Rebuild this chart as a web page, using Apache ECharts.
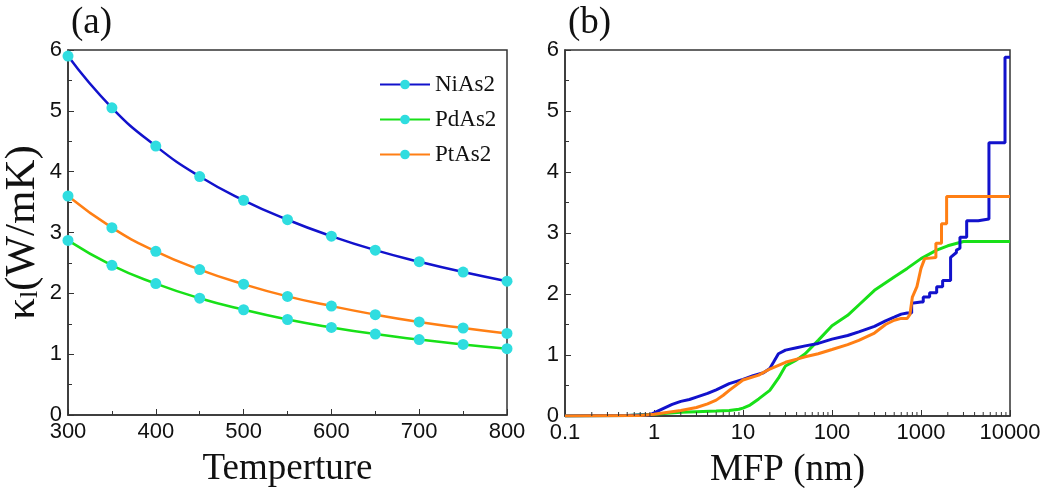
<!DOCTYPE html>
<html>
<head>
<meta charset="utf-8">
<script src="https://cdn.jsdelivr.net/npm/echarts@6/dist/echarts.min.js"></script>
<style>html,body{margin:0;padding:0;background:#fff}#c{width:1043px;height:488px}</style>
</head>
<body>
<div id="c"></div>
<script>
// Panel (a): lattice thermal conductivity vs temperature
var temps = [300, 350, 400, 450, 500, 550, 600, 650, 700, 750, 800];
var kNiAs2 = [5.90, 5.05, 4.42, 3.92, 3.53, 3.21, 2.94, 2.71, 2.52, 2.35, 2.20];
var kPdAs2 = [2.87, 2.46, 2.16, 1.92, 1.73, 1.57, 1.44, 1.33, 1.24, 1.16, 1.09];
var kPtAs2 = [3.60, 3.08, 2.69, 2.39, 2.15, 1.95, 1.79, 1.65, 1.53, 1.43, 1.34];

// Panel (b): cumulative kappa vs MFP (nm)
var mfpNi = [0.1, 0.5, 0.9, 1, 1.3, 1.6, 2, 2.5, 3, 4, 5, 7, 10, 13, 17, 20, 22, 25, 30, 40, 50, 70, 100, 150, 200, 300, 400, 500, 600, 700, 785, 785, 1000, 1060, 1060, 1250, 1250, 1500, 1500, 1750, 1750, 2150, 2150, 2500, 2500, 2740, 2740, 3260, 3260, 4400, 4400, 5800, 5800, 8790, 8790, 10000];
var cumNi = [0, 0.01, 0.02, 0.05, 0.13, 0.19, 0.24, 0.27, 0.31, 0.37, 0.43, 0.53, 0.60, 0.66, 0.71, 0.78, 0.88, 1.02, 1.08, 1.12, 1.15, 1.19, 1.26, 1.32, 1.38, 1.47, 1.56, 1.62, 1.67, 1.69, 1.69, 1.85, 1.87, 1.87, 1.95, 1.95, 2.02, 2.02, 2.12, 2.12, 2.22, 2.22, 2.60, 2.68, 2.72, 2.75, 2.93, 2.93, 3.20, 3.20, 3.23, 3.23, 4.48, 4.48, 5.88, 5.88];
var mfpPd = [0.1, 0.5, 1, 2, 3, 5, 7, 9, 10, 12, 15, 20, 25, 30, 40, 50, 70, 100, 150, 200, 300, 500, 700, 1000, 1500, 2000, 3000, 10000];
var cumPd = [0, 0.01, 0.03, 0.06, 0.07, 0.08, 0.09, 0.11, 0.13, 0.18, 0.28, 0.42, 0.62, 0.82, 0.92, 1.02, 1.24, 1.48, 1.65, 1.82, 2.06, 2.28, 2.42, 2.58, 2.72, 2.79, 2.86, 2.86];
var mfpPt = [0.1, 0.7, 1, 2, 3, 4, 5, 6, 7, 10, 15, 20, 30, 50, 70, 100, 150, 200, 300, 400, 500, 600, 700, 750, 800, 900, 1000, 1100, 1470, 1470, 1700, 1700, 1940, 1940, 10000];
var cumPt = [0, 0.01, 0.03, 0.09, 0.14, 0.20, 0.26, 0.34, 0.42, 0.59, 0.67, 0.77, 0.88, 0.97, 1.02, 1.09, 1.17, 1.24, 1.36, 1.50, 1.57, 1.60, 1.60, 1.66, 1.95, 2.12, 2.42, 2.58, 2.60, 2.83, 2.83, 3.15, 3.15, 3.60, 3.60];

var seriesNames = ['NiAs2', 'PdAs2', 'PtAs2'];
var lineColors = ['#1212cc', '#18e018', '#ff7f14'];
var markerColor = '#2fdde0';

function zip(xs, ys) { return xs.map(function (x, i) { return [x, ys[i]]; }); }

// log-axis minor tick positions (2..9 x each decade)
var minorTicks = [];
for (var d = -1; d < 4; d++) {
  for (var m = 2; m <= 9; m++) minorTicks.push([m * Math.pow(10, d)]);
}

var sans = 'Liberation Sans, Arial, sans-serif';
var serif = 'Liberation Serif, Times New Roman, serif';
var axisCol = '#333';
var tickFont = 22;

var chart = echarts.init(document.getElementById('c'), null, {renderer: 'canvas'});
chart.setOption({
  animation: false,
  backgroundColor: '#fff',
  title: [
    {text: '(a)', left: 66, top: 0, textStyle: {fontFamily: serif, fontSize: 37, fontWeight: 'normal', color: '#111'}},
    {text: '(b)', left: 563, top: 0, textStyle: {fontFamily: serif, fontSize: 37, fontWeight: 'normal', color: '#111'}}
  ],
  legend: {
    data: seriesNames,
    orient: 'vertical',
    left: 374,
    top: 68,
    itemWidth: 50,
    itemHeight: 12,
    itemGap: 12,
    textStyle: {fontFamily: serif, fontSize: 23, color: '#111'}
  },
  grid: [
    {left: 68, right: 536, top: 50, bottom: 73, show: true, borderColor: axisCol, borderWidth: 1.5, containLabel: false, outerBoundsMode: 'none'},
    {left: 565, right: 33, top: 50, bottom: 72, show: true, borderColor: axisCol, borderWidth: 1.5, containLabel: false, outerBoundsMode: 'none'}
  ],
  xAxis: [
    {
      gridIndex: 0, type: 'value', min: 300, max: 800, interval: 100,
      name: 'Temperture', nameLocation: 'middle', nameGap: 36,
      nameTextStyle: {fontFamily: serif, fontSize: 37, color: '#111'},
      axisLine: {lineStyle: {color: axisCol, width: 1.5}},
      axisTick: {inside: true, length: 6, lineStyle: {color: axisCol}},
      minorTick: {show: true, splitNumber: 2, length: 4, lineStyle: {color: axisCol}},
      axisLabel: {fontFamily: sans, fontSize: tickFont, color: '#111', margin: 6},
      splitLine: {show: false}
    },
    {
      gridIndex: 1, type: 'log', logBase: 10, min: 0.1, max: 10000,
      name: 'MFP (nm)', nameLocation: 'middle', nameGap: 36,
      nameTextStyle: {fontFamily: serif, fontSize: 37, color: '#111'},
      axisLine: {lineStyle: {color: axisCol, width: 1.5}},
      axisTick: {inside: true, length: 6, lineStyle: {color: axisCol}},
      axisLabel: {fontFamily: sans, fontSize: tickFont, color: '#111', margin: 6,
        formatter: function (v) { return String(Math.round(v * 10) / 10); }},
      splitLine: {show: false}
    }
  ],
  yAxis: [
    {
      gridIndex: 0, type: 'value', min: 0, max: 6, interval: 1,
      name: '{k|κ}{s|l}{k|(W/mK)}', nameLocation: 'middle', nameGap: 24,
      nameTextStyle: {fontFamily: serif, color: '#111',
        rich: {k: {fontFamily: serif, fontSize: 43, color: '#111'}, s: {fontFamily: serif, fontSize: 26, color: '#111', padding: [16, 0, 0, 0]}}},
      axisLine: {lineStyle: {color: axisCol, width: 1.5}},
      axisTick: {inside: true, length: 6, lineStyle: {color: axisCol}},
      minorTick: {show: true, splitNumber: 2, length: 4, lineStyle: {color: axisCol}},
      axisLabel: {fontFamily: sans, fontSize: tickFont, color: '#111', margin: 6},
      splitLine: {show: false}
    },
    {
      gridIndex: 1, type: 'value', min: 0, max: 6, interval: 1,
      axisLine: {lineStyle: {color: axisCol, width: 1.5}},
      axisTick: {inside: true, length: 6, lineStyle: {color: axisCol}},
      minorTick: {show: true, splitNumber: 2, length: 4, lineStyle: {color: axisCol}},
      axisLabel: {fontFamily: sans, fontSize: tickFont, color: '#111', margin: 6},
      splitLine: {show: false}
    }
  ],
  series: [
    {name: 'NiAs2', type: 'line', xAxisIndex: 0, yAxisIndex: 0, smooth: true, data: zip(temps, kNiAs2),
      symbol: 'circle', symbolSize: 11, lineStyle: {color: lineColors[0], width: 2.5}, itemStyle: {color: markerColor}},
    {name: 'PdAs2', type: 'line', xAxisIndex: 0, yAxisIndex: 0, smooth: true, data: zip(temps, kPdAs2),
      symbol: 'circle', symbolSize: 11, lineStyle: {color: lineColors[1], width: 2.5}, itemStyle: {color: markerColor}},
    {name: 'PtAs2', type: 'line', xAxisIndex: 0, yAxisIndex: 0, smooth: true, data: zip(temps, kPtAs2),
      symbol: 'circle', symbolSize: 11, lineStyle: {color: lineColors[2], width: 2.5}, itemStyle: {color: markerColor}},
    {name: 'NiAs2 MFP', type: 'line', xAxisIndex: 1, yAxisIndex: 1, data: zip(mfpNi, cumNi),
      showSymbol: false, lineStyle: {color: lineColors[0], width: 3}, z: 3},
    {name: 'PdAs2 MFP', type: 'line', xAxisIndex: 1, yAxisIndex: 1, data: zip(mfpPd, cumPd),
      showSymbol: false, lineStyle: {color: lineColors[1], width: 3}, z: 2},
    {name: 'PtAs2 MFP', type: 'line', xAxisIndex: 1, yAxisIndex: 1, data: zip(mfpPt, cumPt),
      showSymbol: false, lineStyle: {color: lineColors[2], width: 3}, z: 4},
    {
      type: 'custom', xAxisIndex: 1, yAxisIndex: 1, silent: true, z: 5, data: minorTicks,
      renderItem: function (params, api) {
        var p = api.coord([api.value(0), 0]);
        return {type: 'line', shape: {x1: p[0], y1: p[1], x2: p[0], y2: p[1] - 4},
          style: {stroke: axisCol, lineWidth: 1}};
      }
    }
  ]
});
</script>
</body>
</html>
